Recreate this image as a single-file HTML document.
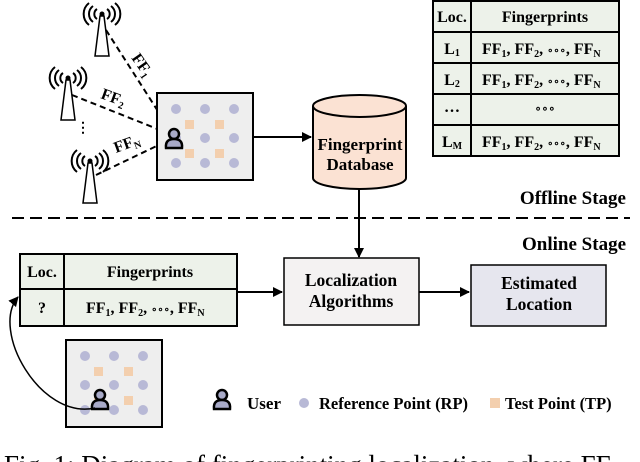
<!DOCTYPE html>
<html><head><meta charset="utf-8"><style>
html,body{margin:0;padding:0;background:#fff;}
svg{display:block;}
text{font-family:"Liberation Serif",serif;font-weight:bold;fill:#000;}
</style></head><body>
<svg width="640" height="462" viewBox="0 0 640 462" xmlns="http://www.w3.org/2000/svg">
<defs>
<marker id="ar" markerWidth="10" markerHeight="10" refX="9" refY="5" orient="auto" markerUnits="userSpaceOnUse"><path d="M0,0 L10,5 L0,10 z" fill="#000"/></marker>
<g id="tower"><path d="M-2,8 L-7,48 L7,48 L2,8 Z" fill="#fff" stroke="#000" stroke-width="1.5"/><circle cx="0" cy="6" r="2.5" fill="#000"/>
<path d="M-5,1 A6,6 0 0 0 -5,11 M5,1 A6,6 0 0 1 5,11 M-9,-2 A10,10 0 0 0 -9,14 M9,-2 A10,10 0 0 1 9,14 M-13,-5 A14,14 0 0 0 -13,17 M13,-5 A14,14 0 0 1 13,17" fill="none" stroke="#000" stroke-width="2"/></g>
<g id="user"><circle cx="0" cy="-5" r="5" fill="#a8aac8" stroke="#000" stroke-width="2.5"/><path d="M-8,9 Q-9,0 0,0 Q9,0 8,9 Z" fill="#a8aac8" stroke="#000" stroke-width="2.5"/></g>
<g id="map"><rect x="0" y="0" width="96" height="87" fill="#eeeeee" stroke="#000" stroke-width="2"/>
<g fill="#b8b9d6"><circle cx="19" cy="16" r="5"/><circle cx="48" cy="16" r="5"/><circle cx="77" cy="16" r="5"/><circle cx="19" cy="45" r="5"/><circle cx="48" cy="45" r="5"/><circle cx="77" cy="45" r="5"/><circle cx="19" cy="70" r="5"/><circle cx="48" cy="70" r="5"/><circle cx="77" cy="70" r="5"/></g>
<g fill="#f3cfae"><rect x="28" y="27" width="9" height="9"/><rect x="58" y="27" width="9" height="9"/><rect x="28" y="56" width="9" height="9"/><rect x="58" y="56" width="9" height="9"/></g></g>
</defs>

<use href="#tower" transform="translate(102,8)"/>
<use href="#tower" transform="translate(68,72)"/>
<use href="#tower" transform="translate(90,155)"/>
<text x="76" y="132" font-size="14">⋮</text>
<g stroke="#000" stroke-width="2" stroke-dasharray="6,4" fill="none">
<line x1="106" y1="30" x2="170" y2="130"/><line x1="72" y1="95" x2="165" y2="132"/><line x1="96" y1="175" x2="165" y2="142"/></g>
<text font-size="16" transform="translate(131,58) rotate(55)">FF<tspan font-size="10" dy="3">1</tspan></text>
<text font-size="16" transform="translate(100,98) rotate(20)">FF<tspan font-size="10" dy="3">2</tspan></text>
<text font-size="16" transform="translate(116,153) rotate(-20)">FF<tspan font-size="10" dy="3">N</tspan></text>

<use href="#map" transform="translate(157,93)"/>
<use href="#user" transform="translate(174,139)"/>
<line x1="254" y1="137" x2="311" y2="137" stroke="#000" stroke-width="2" marker-end="url(#ar)"/>

<path d="M313,106 L313,178 A46.5,11 0 0 0 406,178 L406,106" fill="#fbe2d3" stroke="#000" stroke-width="2"/>
<ellipse cx="359.5" cy="106" rx="46.5" ry="11" fill="#fbe2d3" stroke="#000" stroke-width="2"/>
<text x="360" y="150" font-size="17" text-anchor="middle">Fingerprint</text>
<text x="360" y="170" font-size="17" text-anchor="middle">Database</text>
<line x1="359" y1="189" x2="359" y2="257" stroke="#000" stroke-width="2" marker-end="url(#ar)"/>

<rect x="433" y="1" width="186" height="155" fill="#edf2ea" stroke="#000" stroke-width="2"/>
<g stroke="#000" stroke-width="2"><line x1="471" y1="1" x2="471" y2="156"/><line x1="433" y1="32" x2="619" y2="32"/><line x1="433" y1="63" x2="619" y2="63"/><line x1="433" y1="94" x2="619" y2="94"/><line x1="433" y1="125" x2="619" y2="125"/></g>
<g font-size="16" text-anchor="middle">
<text x="452" y="22">Loc.</text><text x="545" y="22">Fingerprints</text>
<text x="452" y="54">L<tspan font-size="10" dy="2">1</tspan></text>
<text x="452" y="85">L<tspan font-size="10" dy="2">2</tspan></text>
<text x="452" y="112">…</text><text x="545" y="112" font-size="11">∘∘∘</text>
<text x="452" y="147">L<tspan font-size="10" dy="2">M</tspan></text>
</g>
<g font-size="16">
<text x="482" y="54">FF<tspan font-size="10" dy="3">1</tspan><tspan dy="-3">, FF</tspan><tspan font-size="10" dy="3">2</tspan><tspan dy="-3">, </tspan><tspan font-size="10">∘∘∘</tspan><tspan>, FF</tspan><tspan font-size="10" dy="3">N</tspan></text>
<text x="482" y="85">FF<tspan font-size="10" dy="3">1</tspan><tspan dy="-3">, FF</tspan><tspan font-size="10" dy="3">2</tspan><tspan dy="-3">, </tspan><tspan font-size="10">∘∘∘</tspan><tspan>, FF</tspan><tspan font-size="10" dy="3">N</tspan></text>
<text x="482" y="147">FF<tspan font-size="10" dy="3">1</tspan><tspan dy="-3">, FF</tspan><tspan font-size="10" dy="3">2</tspan><tspan dy="-3">, </tspan><tspan font-size="10">∘∘∘</tspan><tspan>, FF</tspan><tspan font-size="10" dy="3">N</tspan></text>
</g>

<text x="626" y="204" font-size="19" text-anchor="end">Offline Stage</text>
<line x1="12" y1="218" x2="630" y2="218" stroke="#000" stroke-width="2" stroke-dasharray="12,6"/>
<text x="626" y="250" font-size="19" text-anchor="end">Online Stage</text>

<rect x="20" y="254" width="217" height="72" fill="#edf2ea" stroke="#000" stroke-width="2"/>
<g stroke="#000" stroke-width="2"><line x1="64" y1="254" x2="64" y2="326"/><line x1="20" y1="289" x2="237" y2="289"/></g>
<g font-size="16"><text x="42" y="277" text-anchor="middle">Loc.</text><text x="150" y="277" text-anchor="middle">Fingerprints</text>
<text x="42" y="313" text-anchor="middle">?</text>
<text x="86" y="313">FF<tspan font-size="10" dy="3">1</tspan><tspan dy="-3">, FF</tspan><tspan font-size="10" dy="3">2</tspan><tspan dy="-3">, </tspan><tspan font-size="10">∘∘∘</tspan><tspan>, FF</tspan><tspan font-size="10" dy="3">N</tspan></text></g>
<line x1="237" y1="292" x2="282" y2="292" stroke="#000" stroke-width="2" marker-end="url(#ar)"/>
<rect x="284" y="258" width="135" height="67" fill="#f4f2f2" stroke="#000" stroke-width="1.5"/>
<text x="351" y="286" font-size="17.5" text-anchor="middle">Localization</text>
<text x="351" y="307" font-size="17.5" text-anchor="middle">Algorithms</text>
<line x1="419" y1="292" x2="469" y2="292" stroke="#000" stroke-width="2" marker-end="url(#ar)"/>
<rect x="471" y="265" width="135" height="61" fill="#e6e6ee" stroke="#000" stroke-width="1.5"/>
<text x="539" y="289" font-size="17.5" text-anchor="middle">Estimated</text>
<text x="539" y="310" font-size="17.5" text-anchor="middle">Location</text>

<use href="#map" transform="translate(66,340)"/>
<use href="#user" transform="translate(100,400)"/>
<path d="M95,408 C40,420 -10,330 18,297" fill="none" stroke="#000" stroke-width="1.5" marker-end="url(#ar)"/>

<use href="#user" transform="translate(222,400)"/>
<text x="247" y="409" font-size="17">User</text>
<circle cx="304" cy="403" r="5" fill="#b8b9d6"/>
<text x="319" y="409" font-size="16.5">Reference Point (RP)</text>
<rect x="490" y="398" width="10" height="10" fill="#f3cfae"/>
<text x="505" y="409" font-size="16.5">Test Point (TP)</text>

<text x="4" y="474" font-size="27" style="font-weight:normal">Fig. 1: Diagram of fingerprinting localization, where FF</text>
</svg>
</body></html>
